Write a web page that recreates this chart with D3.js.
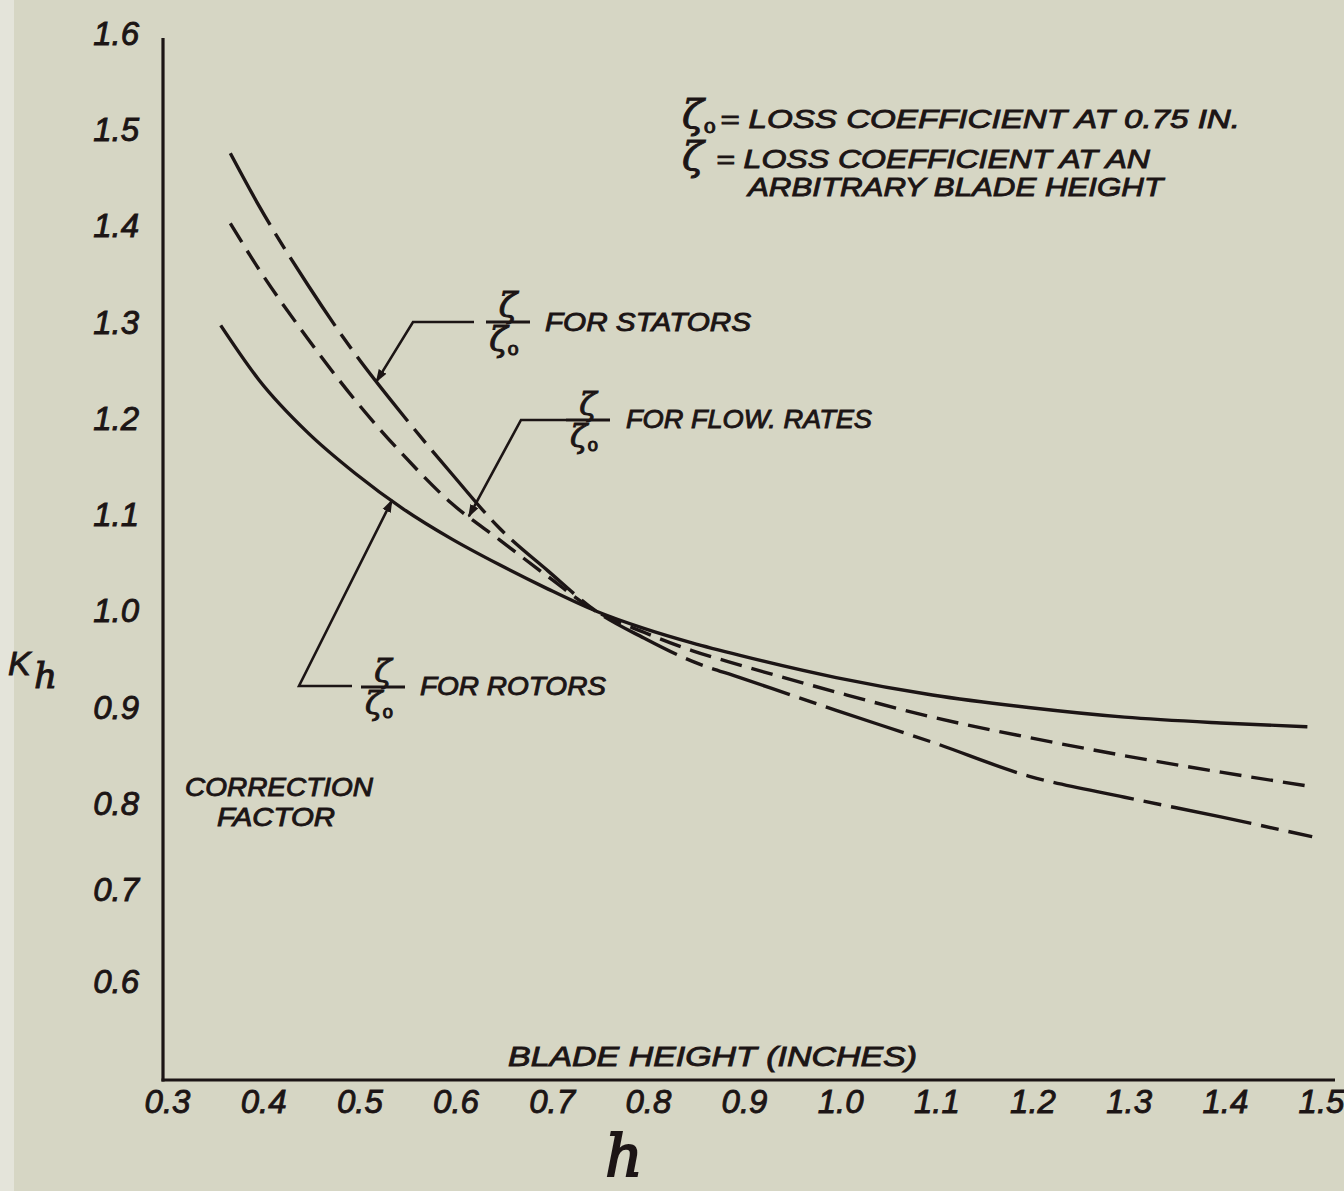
<!DOCTYPE html>
<html>
<head>
<meta charset="utf-8">
<script src="https://cdn.jsdelivr.net/npm/d3@7"></script>
<style>
  html, body { margin: 0; padding: 0; background: #d6d6c4; }
  svg { display: block; }
  .hand {
    font-family: "Liberation Sans", Arial, sans-serif;
    font-style: italic;
    fill: #1c1515;
    stroke: #1c1515;
    stroke-width: 0.9px;
  }
  .greek {
    font-family: "DejaVu Serif", serif;
    font-style: italic;
    fill: #1c1515;
    stroke: #1c1515;
    stroke-width: 1px;
  }
</style>
</head>
<body>
<svg id="chart" width="1344" height="1191"></svg>
<script>
// Blade height h (inches) and correction factor K_h for each curve
const statorHeights = [0.37, 0.40, 0.45, 0.50, 0.55, 0.60, 0.65, 0.70, 0.75, 0.80, 0.85, 0.90, 1.00, 1.10, 1.20, 1.30, 1.40, 1.495];
const statorFactor  = [1.476, 1.421, 1.340, 1.267, 1.203, 1.143, 1.086, 1.042, 1.000, 0.972, 0.948, 0.931, 0.897, 0.864, 0.829, 0.807, 0.785, 0.762];

const flowHeights = [0.37, 0.40, 0.45, 0.50, 0.55, 0.60, 0.65, 0.70, 0.75, 0.80, 0.85, 0.90, 1.00, 1.10, 1.20, 1.30, 1.40, 1.495];
const flowFactor  = [1.403, 1.355, 1.284, 1.219, 1.162, 1.112, 1.074, 1.036, 1.000, 0.978, 0.959, 0.944, 0.916, 0.890, 0.869, 0.850, 0.833, 0.818];

const rotorHeights = [0.36, 0.40, 0.45, 0.50, 0.55, 0.60, 0.65, 0.70, 0.75, 0.80, 0.85, 0.90, 1.00, 1.10, 1.20, 1.30, 1.40, 1.49];
const rotorFactor  = [1.297, 1.240, 1.186, 1.143, 1.106, 1.075, 1.048, 1.023, 1.000, 0.982, 0.967, 0.954, 0.931, 0.913, 0.900, 0.890, 0.884, 0.880];

const xTickValues = [0.3, 0.4, 0.5, 0.6, 0.7, 0.8, 0.9, 1.0, 1.1, 1.2, 1.3, 1.4, 1.5];
const yTickValues = [0.6, 0.7, 0.8, 0.9, 1.0, 1.1, 1.2, 1.3, 1.4, 1.5, 1.6];

// Where each leader arrow touches its curve (blade height)
const statorLeaderAt = 0.522;
const flowLeaderAt = 0.618;
const rotorLeaderAt = 0.538;

const ink = "#1c1515";
const svg = d3.select("#chart");

// lighter band along the left edge of the sheet
svg.append("rect").attr("x", 0).attr("y", 0).attr("width", 14).attr("height", 1191)
  .attr("fill", "#e4e4da");

const x = d3.scaleLinear().domain([0.3, 1.5]).range([163, 1317]);
// hand-ruled ordinate: the lowest divisions are drawn a little closer together
const y = d3.scaleLinear().domain([0.5, 0.6, 0.7, 0.8, 1.0, 1.6]).range([1080, 982, 890, 804, 611, 34]);

// axis lines
svg.append("line")
  .attr("x1", x(0.3)).attr("x2", x(0.3))
  .attr("y1", y(1.6) + 4).attr("y2", y(0.5) + 1.5)
  .attr("stroke", ink).attr("stroke-width", 3.2);
svg.append("line")
  .attr("x1", x(0.3) - 1.5).attr("x2", x(1.5) + 18)
  .attr("y1", y(0.5)).attr("y2", y(0.5))
  .attr("stroke", ink).attr("stroke-width", 3.2);

// tick labels
const fmt = d3.format(".1f");
const xAxis = svg.append("g")
  .attr("transform", `translate(0,${y(0.5)})`)
  .call(d3.axisBottom(x).tickValues(xTickValues).tickFormat(fmt).tickSize(0).tickPadding(10));
xAxis.select(".domain").remove();
xAxis.selectAll("text")
  .attr("class", "hand")
  .attr("dx", 4)
  .style("font-size", "33px");

const yAxis = svg.append("g")
  .attr("transform", `translate(${x(0.3)},0)`)
  .call(d3.axisLeft(y).tickValues(yTickValues).tickFormat(fmt).tickSize(0).tickPadding(24));
yAxis.select(".domain").remove();
yAxis.selectAll("text")
  .attr("class", "hand")
  .style("font-size", "33px");

// curves
const line = d3.line().x(d => x(d[0])).y(d => y(d[1])).curve(d3.curveMonotoneX);
const series = [
  { h: rotorHeights, k: rotorFactor, dash: null },
  { h: flowHeights, k: flowFactor, dash: "22 10" },
  { h: statorHeights, k: statorFactor, dash: "82 10 18 10" }
];
series.forEach(s => {
  svg.append("path")
    .datum(s.h.map((h, i) => [h, s.k[i]]))
    .attr("d", line)
    .attr("fill", "none")
    .attr("stroke", ink)
    .attr("stroke-width", 3.4)
    .attr("stroke-dasharray", s.dash);
});

// arrowheads for the leader lines
svg.append("defs").append("marker")
  .attr("id", "arrow")
  .attr("viewBox", "0 0 10 10")
  .attr("refX", 9).attr("refY", 5)
  .attr("markerWidth", 5).attr("markerHeight", 5)
  .attr("markerUnits", "strokeWidth")
  .attr("orient", "auto")
  .append("path").attr("d", "M0,1.5 L10,5 L0,8.5 Z").attr("fill", ink);

function valueAt(hs, ks, h) {
  return d3.scaleLinear().domain(hs).range(ks)(h);
}

function leader(tipH, hs, ks, bend, end) {
  const tip = [x(tipH), y(valueAt(hs, ks, tipH))];
  svg.append("polyline")
    .attr("points", [end, bend, tip].map(p => p.join(",")).join(" "))
    .attr("fill", "none")
    .attr("stroke", ink)
    .attr("stroke-width", 2.6)
    .attr("marker-end", "url(#arrow)");
}

// ζ / ζ₀ fraction
function ratio(cx, barY, size) {
  const g = svg.append("g");
  g.append("text").attr("class", "greek")
    .attr("x", cx).attr("y", barY - 5)
    .attr("text-anchor", "middle")
    .style("font-size", size + "px")
    .text("ζ");
  g.append("line")
    .attr("x1", cx - 22).attr("x2", cx + 22)
    .attr("y1", barY).attr("y2", barY)
    .attr("stroke", ink).attr("stroke-width", 3);
  const t = g.append("text").attr("class", "greek")
    .attr("x", cx - 4).attr("y", barY + size * 0.85)
    .attr("text-anchor", "middle")
    .style("font-size", size + "px")
    .text("ζ");
  t.append("tspan").attr("dy", 4).style("font-size", (size * 0.55) + "px").style("font-style", "normal").text("o");
}

function hand(txt, x0, base, size, len) {
  const t = svg.append("text").attr("class", "hand")
    .attr("x", x0).attr("y", base)
    .style("font-size", size + "px")
    .text(txt);
  if (len) t.attr("textLength", len).attr("lengthAdjust", "spacingAndGlyphs");
  return t;
}

// stators
leader(statorLeaderAt, statorHeights, statorFactor, [413, 322], [474, 322]);
ratio(508, 322, 34);
hand("FOR STATORS", 545, 331, 25, 206);

// flow rates
leader(flowLeaderAt, flowHeights, flowFactor, [521, 420], [566, 420]);
ratio(588, 420, 32);
hand("FOR FLOW. RATES", 626, 428, 25, 246);

// rotors
leader(rotorLeaderAt, rotorHeights, rotorFactor, [299, 686], [352, 686]);
ratio(383, 687, 32);
hand("FOR ROTORS", 420, 695, 25, 186);

// definitions
const z0 = svg.append("text").attr("class", "greek")
  .attr("x", 682).attr("y", 128).style("font-size", "40px").text("ζ");
z0.append("tspan").attr("dy", 5).style("font-size", "20px").style("font-style", "normal").text("o");
hand("= LOSS COEFFICIENT AT 0.75 IN.", 720, 128, 26, 520);
svg.append("text").attr("class", "greek")
  .attr("x", 682).attr("y", 170).style("font-size", "40px").text("ζ");
hand("= LOSS COEFFICIENT AT AN", 716, 168, 26, 434);
hand("ARBITRARY BLADE HEIGHT", 748, 196, 26, 415);

// axis captions
hand("CORRECTION", 185, 796, 25, 188);
hand("FACTOR", 217, 826, 25, 118);
hand("BLADE HEIGHT  (INCHES)", 508, 1066, 27, 409);

svg.append("text").attr("class", "hand")
  .attr("x", 8).attr("y", 675).style("font-size", "34px").text("K");
svg.append("text").attr("class", "greek")
  .attr("x", 34).attr("y", 688).style("font-size", "36px").text("h");
svg.append("text").attr("class", "greek")
  .attr("x", 624).attr("y", 1176).attr("text-anchor", "middle")
  .style("font-size", "58px").style("stroke-width", "2px").text("h");
</script>
</body>
</html>
